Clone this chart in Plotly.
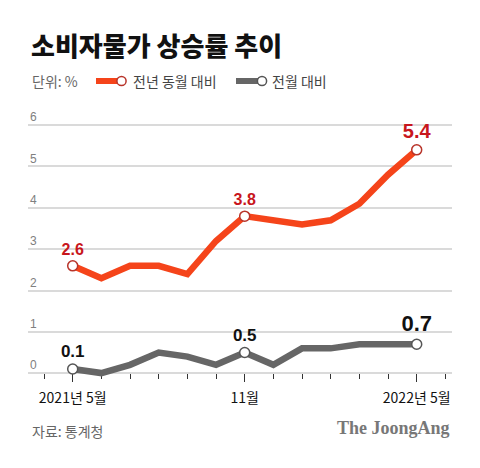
import plotly.graph_objects as go

# ---- data ----
month_idx = list(range(13))  # 2021-05 .. 2022-05
yoy = [2.6, 2.3, 2.6, 2.6, 2.4, 3.2, 3.8, 3.7, 3.6, 3.7, 4.1, 4.8, 5.4]   # 전년 동월 대비
mom = [0.1, 0.0, 0.2, 0.5, 0.4, 0.2, 0.5, 0.2, 0.6, 0.6, 0.7, 0.7, 0.7]   # 전월 대비
labeled = [0, 6, 12]
tick_vals = [0, 6, 12]
tick_text = ["2021년 5월", "11월", "2022년 5월"]
top_ticks = [2, 3, 4, 5, 6]
bot_ticks = [0, 1]

RED = "#f5441a"
RED_DARK = "#c8161c"
GREY = "#666666"
KR = "Noto Sans CJK KR"
NUM = "Liberation Sans"

OFF = 8  # page body margin
W, H = 472, 460
ML, MR, MT, MB = 20, 28, 92, 80
PW, PH = W - ML - MR, H - MT - MB


def px_x(p):  # p = page pixel
    return (p - OFF - ML) / PW


def px_y(p):
    return (H - MB - (p - OFF)) / PH


fig = go.Figure()

fig.add_trace(go.Scatter(x=month_idx, y=yoy, mode="lines", xaxis="x", yaxis="y",
                         line=dict(color=RED, width=6.5), hoverinfo="skip", showlegend=False))
fig.add_trace(go.Scatter(
    x=labeled, y=[yoy[i] for i in labeled], mode="markers+text", xaxis="x", yaxis="y",
    marker=dict(size=10, color="white", line=dict(color="#b8342a", width=1.5)),
    text=[f"{yoy[i]:.1f}" for i in labeled], textposition="top center",
    textfont=dict(family=NUM, color=RED_DARK, size=[16, 16, 20], weight="bold"),
    cliponaxis=False, showlegend=False))

fig.add_trace(go.Scatter(x=month_idx, y=mom, mode="lines", xaxis="x", yaxis="y2",
                         line=dict(color=GREY, width=6.5), hoverinfo="skip", showlegend=False))
fig.add_trace(go.Scatter(
    x=labeled, y=[mom[i] for i in labeled], mode="markers+text", xaxis="x", yaxis="y2",
    marker=dict(size=10, color="white", line=dict(color="#555555", width=1.5)),
    text=[f"{mom[i]:.1f}" for i in labeled], textposition="top center",
    textfont=dict(family=NUM, color="#111111", size=[17, 17, 22], weight="bold"),
    cliponaxis=False, showlegend=False))

ytick_common = dict(
    showgrid=True, gridcolor="#dadada", gridwidth=1.5, zeroline=False,
    ticks="", ticklabelposition="inside", ticklabelshift=-8, ticklabelstandoff=-1,
    tickfont=dict(family=NUM, size=12, color="#808080"), fixedrange=True,
)

# y ranges chosen so that 1 unit = 41.4 px in both panels (page pixels)
scale = 41.4
top_dom = [px_y(304), px_y(100)]
top_rng = [2 - (304 - 290.7) / scale, 6 + (125 - 100) / scale]
bot_dom = [0, px_y(310)]
bot_rng = [-(388 - 373) / scale, 1 + (332 - 310) / scale]

fig.update_layout(
    width=W, height=H,
    margin=dict(l=ML, r=MR, t=MT, b=MB),
    paper_bgcolor="white", plot_bgcolor="white",
    showlegend=False,
    xaxis=dict(
        range=[-(72.7 - 28) / 28.67, 12 + (452 - 416.7) / 28.67],
        anchor="free", position=px_y(373),
        showgrid=False, zeroline=False,
        showline=True, linecolor="#111111", linewidth=1.5,
        tickmode="array", tickvals=tick_vals, ticktext=tick_text,
        ticks="outside", ticklen=8, tickwidth=1, tickcolor="#333333",
        minor=dict(tickmode="linear", tick0=0, dtick=1, ticks="outside",
                   ticklen=5, tickwidth=1, tickcolor="#333333"),
        tickfont=dict(family=KR, size=14, color="#111111"),
        ticklabelstandoff=4, fixedrange=True,
    ),
    yaxis=dict(domain=top_dom, range=top_rng, tickvals=top_ticks, anchor="x", **ytick_common),
    yaxis2=dict(domain=bot_dom, range=bot_rng, tickvals=bot_ticks, anchor="x", **ytick_common),
)

# title, legend, source
anns = [
    dict(text="소비자물가 상승률 추이", x=px_x(29), y=px_y(44), xanchor="left", yanchor="middle",
         font=dict(family=KR, size=26, color="#111111", weight=900)),
    dict(text="단위: %", x=px_x(30), y=px_y(81), xanchor="left", yanchor="middle",
         font=dict(family=KR, size=14, color="#666666")),
    dict(text="전년 동월 대비", x=px_x(131), y=px_y(81), xanchor="left", yanchor="middle",
         font=dict(family=KR, size=14, color="#444444")),
    dict(text="전월 대비", x=px_x(270), y=px_y(81), xanchor="left", yanchor="middle",
         font=dict(family=KR, size=14, color="#444444")),
    dict(text="자료: 통계청", x=px_x(30), y=px_y(431), xanchor="left", yanchor="middle",
         font=dict(family=KR, size=14, color="#666666")),
    dict(text="<b>The JoongAng</b>", x=px_x(452), y=px_y(428), xanchor="right", yanchor="middle",
         font=dict(family="Liberation Serif", size=18, color="#777777")),
]
for a in anns:
    a.update(xref="paper", yref="paper", showarrow=False)
fig.update_layout(annotations=anns)

shapes = []
for (x0, x1, cx, col, oc) in [(96, 118, 121.5, RED, "#b8342a"), (236, 258, 262, GREY, "#555555")]:
    shapes.append(dict(type="line", xref="paper", yref="paper", x0=px_x(x0), x1=px_x(x1),
                       y0=px_y(81), y1=px_y(81), line=dict(color=col, width=6)))
    r = 4.6
    shapes.append(dict(type="circle", xref="paper", yref="paper",
                       x0=px_x(cx - r), x1=px_x(cx + r), y0=px_y(81 + r), y1=px_y(81 - r),
                       fillcolor="white", line=dict(color=oc, width=1.5)))
fig.update_layout(shapes=shapes)

fig.write_html("out.html")
